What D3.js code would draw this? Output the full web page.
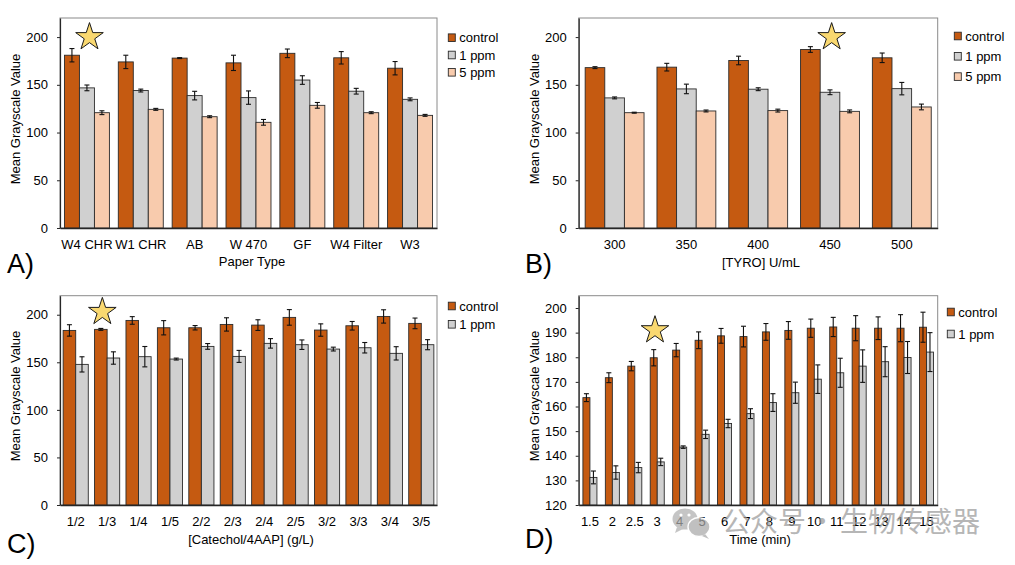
<!DOCTYPE html>
<html>
<head>
<meta charset="UTF-8">
<title>Mean Grayscale Value panels</title>
<script src="https://d3js.org/d3.v7.min.js"></script>
<style>
    body { margin: 0; background: #fff; }
    svg text { font-family: "Liberation Sans", Arial, sans-serif; fill: #000; }
    .tick text { font-size: 13px; }
    .axis-title { font-size: 13px; text-anchor: middle; }
    .panel-letter { font-size: 27px; }
    .legend text { font-size: 13px; }
    .watermark { font-family: "Noto Sans CJK SC", sans-serif; font-size: 28px; fill: #9a9a9a; }
</style>
</head>
<body>
<script>
    // ---- data ----
    const paperTypes = ["W4 CHR", "W1 CHR", "AB", "W 470", "GF", "W4 Filter", "W3"];
    const paperControl = [181, 174, 178, 173, 183, 178.3, 167.4];
    const paperControlErr = [7, 7, 0.5, 8, 4.5, 6.5, 7];
    const paper1ppm = [146.8, 144, 138.7, 136.6, 155, 143.3, 134.8];
    const paper1ppmErr = [3, 1.5, 4.5, 7, 4.5, 3, 1.5];
    const paper5ppm = [120.8, 124.3, 116.6, 110.7, 128.5, 120.8, 118];
    const paper5ppmErr = [2, 1, 1, 3, 3, 1, 1];

    const tyroLevels = ["300", "350", "400", "450", "500"];
    const tyroControl = [168, 168.5, 175.5, 187, 178.3];
    const tyroControlErr = [1, 4, 4.5, 3, 5];
    const tyro1ppm = [136.3, 145.7, 145.4, 142.2, 146];
    const tyro1ppmErr = [1, 5, 1.5, 2.5, 6.5];
    const tyro5ppm = [120.8, 122.6, 123, 122.2, 126.8];
    const tyro5ppmErr = [0.5, 1, 1.5, 1.5, 3];

    const catecholRatios = ["1/2", "1/3", "1/4", "1/5", "2/2", "2/3", "2/4", "2/5", "3/2", "3/3", "3/4", "3/5"];
    const catControl = [183.5, 184.6, 194, 186.3, 186.3, 189.8, 189.1, 197.2, 183.9, 188.4, 198.2, 190.9];
    const catControlErr = [6, 1, 4, 7.5, 2.3, 7, 5.6, 8.2, 6.5, 4.5, 7, 5.6];
    const cat1ppm = [147.8, 154.5, 155.9, 153.4, 166.7, 156.2, 169.9, 168.5, 163.9, 165.3, 159.4, 168.5];
    const cat1ppmErr = [8, 6.5, 10.7, 1, 3, 6.3, 5, 5, 2, 5.5, 7, 5.3];

    const timePoints = ["1.5", "2", "2.5", "3", "4", "5", "6", "7", "8", "9", "10", "11", "12", "13", "14", "15"];
    const timeControl = [163.6, 171.7, 176.4, 179.8, 182.9, 186.9, 188.7, 188.4, 190.3, 190.9, 191.8, 192.3, 191.8, 191.8, 191.8, 192.2];
    const timeControlErr = [1.6, 2, 1.9, 3.3, 2.7, 3.4, 3, 4.2, 3.4, 3.6, 3.7, 3.9, 5.1, 4.6, 5.5, 6.1];
    const time1ppm = [131.2, 133.2, 135.2, 137.5, 143.5, 148.7, 153.1, 157.1, 161.6, 165.6, 171.1, 173.7, 176.4, 178.2, 179.9, 182.1];
    const time1ppmErr = [2.6, 2.7, 2.1, 1.5, 0.5, 1.7, 1.7, 2, 3.6, 4.3, 5.8, 5.9, 6.6, 6.1, 6.5, 7.9];

    const ticksFrom0 = [0, 50, 100, 150, 200];
    const ticksFrom120 = [120, 130, 140, 150, 160, 170, 180, 190, 200];

    const colControl = '#c55a11';
    const col1ppm = '#d0d0d0';
    const col5ppm = '#f8cbad';

    const width = 1015;
    const height = 565;

    const svg = d3.select('body')
        .append('svg')
        .attr('width', width)
        .attr('height', height);

    const panels = [
        {
            letter: 'A)', letterX: 7, letterY: 273,
            categories: paperTypes,
            series: [
                { name: 'control', values: paperControl, err: paperControlErr, color: colControl },
                { name: '1 ppm', values: paper1ppm, err: paper1ppmErr, color: col1ppm },
                { name: '5 ppm', values: paper5ppm, err: paper5ppmErr, color: col5ppm }
            ],
            yDomain: [0, 220], yTicks: ticksFrom0,
            left: 60, right: 437, top: 18, bottom: 228, pad: 0.165,
            xTitle: 'Paper Type', xTitleX: 252, xTitleY: 266,
            yTitleX: 19.5, yTitleY: 119,
            legendX: 448.3, legendY: 37.7, legendDy: 17.3,
            star: { cat: 'W4 CHR', frac: 0.557, value: 200 }
        },
        {
            letter: 'B)', letterX: 525, letterY: 273,
            categories: tyroLevels,
            series: [
                { name: 'control', values: tyroControl, err: tyroControlErr, color: colControl },
                { name: '1 ppm', values: tyro1ppm, err: tyro1ppmErr, color: col1ppm },
                { name: '5 ppm', values: tyro5ppm, err: tyro5ppmErr, color: col5ppm }
            ],
            yDomain: [0, 220], yTicks: ticksFrom0,
            left: 578.7, right: 937.7, top: 18, bottom: 228, pad: 0.18,
            xTitle: '[TYRO] U/mL', xTitleX: 761, xTitleY: 266.5,
            yTitleX: 538.8, yTitleY: 119,
            legendX: 954.3, legendY: 36, legendDy: 20.3,
            star: { cat: '450', frac: 0.528, value: 200 }
        },
        {
            letter: 'C)', letterX: 7, letterY: 553,
            categories: catecholRatios,
            series: [
                { name: 'control', values: catControl, err: catControlErr, color: colControl },
                { name: '1 ppm', values: cat1ppm, err: cat1ppmErr, color: col1ppm }
            ],
            yDomain: [0, 220], yTicks: ticksFrom0,
            left: 60, right: 437, top: 295.7, bottom: 505, pad: 0.2,
            xTitle: '[Catechol/4AAP] (g/L)', xTitleX: 251, xTitleY: 544,
            yTitleX: 19.5, yTitleY: 396,
            legendX: 448.3, legendY: 306, legendDy: 18.3,
            star: { cat: '1/3', frac: 0.31, value: 203 }
        },
        {
            letter: 'D)', letterX: 525, letterY: 548,
            categories: timePoints,
            series: [
                { name: 'control', values: timeControl, err: timeControlErr, color: colControl },
                { name: '1 ppm', values: time1ppm, err: time1ppmErr, color: col1ppm }
            ],
            yDomain: [120, 205], yTicks: ticksFrom120,
            left: 578.7, right: 937.7, top: 295.7, bottom: 505, pad: 0.375,
            xTitle: 'Time (min)', xTitleX: 760, xTitleY: 544,
            yTitleX: 538.8, yTitleY: 396,
            legendX: 947.3, legendY: 312, legendDy: 22,
            star: { cat: '3', frac: 0.34, value: 191 }
        }
    ];

    function starPath(cx, cy, rOut) {
        const rIn = rOut * 0.382;
        const pts = [];
        for (let i = 0; i < 10; i++) {
            const r = i % 2 === 0 ? rOut : rIn;
            const a = -Math.PI / 2 + i * Math.PI / 5;
            pts.push([cx + r * Math.cos(a), cy + r * Math.sin(a)]);
        }
        return 'M' + pts.map(p => p.join(',')).join('L') + 'Z';
    }

    function drawPanel(p) {
        const g = svg.append('g');

        const x0 = d3.scaleBand()
            .domain(p.categories)
            .range([p.left, p.right])
            .paddingInner(p.pad)
            .paddingOuter(p.pad / 2);

        const x1 = d3.scaleBand()
            .domain(p.series.map(s => s.name))
            .range([0, x0.bandwidth()]);

        const y = d3.scaleLinear()
            .domain(p.yDomain)
            .range([p.bottom, p.top]);

        // plot area border
        g.append('rect')
            .attr('x', p.left)
            .attr('y', p.top)
            .attr('width', p.right - p.left)
            .attr('height', p.bottom - p.top)
            .attr('fill', 'none')
            .attr('stroke', '#8a8a8a')
            .attr('stroke-width', 1);

        // bars
        p.series.forEach(s => {
            g.selectAll(null)
                .data(p.categories)
                .enter()
                .append('rect')
                .attr('x', (d) => x0(d) + x1(s.name))
                .attr('y', (d, i) => y(s.values[i]))
                .attr('width', x1.bandwidth())
                .attr('height', (d, i) => y(p.yDomain[0]) - y(s.values[i]))
                .attr('fill', s.color)
                .attr('stroke', '#2b2b2b')
                .attr('stroke-width', 0.9);
        });

        // error bars
        p.series.forEach(s => {
            const eb = g.selectAll(null)
                .data(p.categories)
                .enter()
                .append('g')
                .attr('stroke', '#111')
                .attr('stroke-width', 1.1);
            const cx = d => x0(d) + x1(s.name) + x1.bandwidth() / 2;
            const cap = 2.5;
            eb.append('line')
                .attr('x1', cx).attr('x2', cx)
                .attr('y1', (d, i) => y(s.values[i] - s.err[i]))
                .attr('y2', (d, i) => y(s.values[i] + s.err[i]));
            eb.append('line')
                .attr('x1', d => cx(d) - cap).attr('x2', d => cx(d) + cap)
                .attr('y1', (d, i) => y(s.values[i] + s.err[i]))
                .attr('y2', (d, i) => y(s.values[i] + s.err[i]));
            eb.append('line')
                .attr('x1', d => cx(d) - cap).attr('x2', d => cx(d) + cap)
                .attr('y1', (d, i) => y(s.values[i] - s.err[i]))
                .attr('y2', (d, i) => y(s.values[i] - s.err[i]));
        });

        // axes
        const yAxis = g.append('g')
            .attr('transform', `translate(${p.left},0)`)
            .call(d3.axisLeft(y).tickValues(p.yTicks).tickSize(3).tickSizeOuter(0).tickPadding(9));
        yAxis.select('.domain').attr('stroke', '#262626').attr('stroke-width', 1.2);
        yAxis.selectAll('.tick line').attr('stroke', '#262626');
        yAxis.selectAll('.tick text').attr('fill', '#000');

        const xAxis = g.append('g')
            .attr('transform', `translate(0,${p.bottom})`)
            .call(d3.axisBottom(x0).tickSize(0).tickSizeOuter(0).tickPadding(12));
        xAxis.select('.domain').attr('stroke', '#262626').attr('stroke-width', 1.4);
        xAxis.selectAll('.tick text').attr('fill', '#000');
        g.selectAll('.tick text').style('font-family', '"Liberation Sans", Arial, sans-serif');

        // axis titles
        g.append('text')
            .attr('class', 'axis-title')
            .attr('x', p.xTitleX)
            .attr('y', p.xTitleY)
            .text(p.xTitle);

        g.append('text')
            .attr('class', 'axis-title')
            .attr('transform', `translate(${p.yTitleX},${p.yTitleY}) rotate(-90)`)
            .text('Mean Grayscale Value');

        g.append('text')
            .attr('class', 'panel-letter')
            .attr('x', p.letterX)
            .attr('y', p.letterY)
            .text(p.letter);

        // legend
        const legend = g.append('g').attr('class', 'legend');
        p.series.forEach((s, i) => {
            const cy = p.legendY + i * p.legendDy;
            legend.append('rect')
                .attr('x', p.legendX)
                .attr('y', cy - 3.8)
                .attr('width', 7)
                .attr('height', 7.6)
                .attr('fill', s.color)
                .attr('stroke', '#2b2b2b')
                .attr('stroke-width', 0.9);
            legend.append('text')
                .attr('x', p.legendX + 11)
                .attr('y', cy + 4.6)
                .text(s.name);
        });

        // star marking the chosen condition
        const sx = x0(p.star.cat) + x0.bandwidth() * p.star.frac;
        g.append('path')
            .attr('d', starPath(sx, y(p.star.value), 14.5))
            .attr('fill', '#f9d870')
            .attr('stroke', '#1a1a1a')
            .attr('stroke-width', 1);
    }

    panels.forEach(drawPanel);

    // watermark over panel D
    const wm = svg.append('g').attr('opacity', 0.72);
    wm.append('ellipse').attr('cx', 685).attr('cy', 519).attr('rx', 12.5).attr('ry', 10.5).attr('fill', '#b0b0b0');
    wm.append('path').attr('d', 'M677,527 L675,533 L683,529 Z').attr('fill', '#b0b0b0');
    wm.append('circle').attr('cx', 681).attr('cy', 515).attr('r', 1.6).attr('fill', '#fff');
    wm.append('circle').attr('cx', 689).attr('cy', 515).attr('r', 1.6).attr('fill', '#fff');
    wm.append('ellipse').attr('cx', 699).attr('cy', 527).attr('rx', 11).attr('ry', 9.5).attr('fill', '#a8a8a8')
        .attr('stroke', '#fff').attr('stroke-width', 1.4);
    wm.append('path').attr('d', 'M705,534 L709,539 L702,536 Z').attr('fill', '#a8a8a8');
    wm.append('text').attr('class', 'watermark').attr('x', 722).attr('y', 532).text('公众号');
    wm.append('text').attr('class', 'watermark').attr('x', 808).attr('y', 532).text('·');
    wm.append('text').attr('class', 'watermark').attr('x', 840).attr('y', 532).text('生物传感器');
</script>
</body>
</html>
